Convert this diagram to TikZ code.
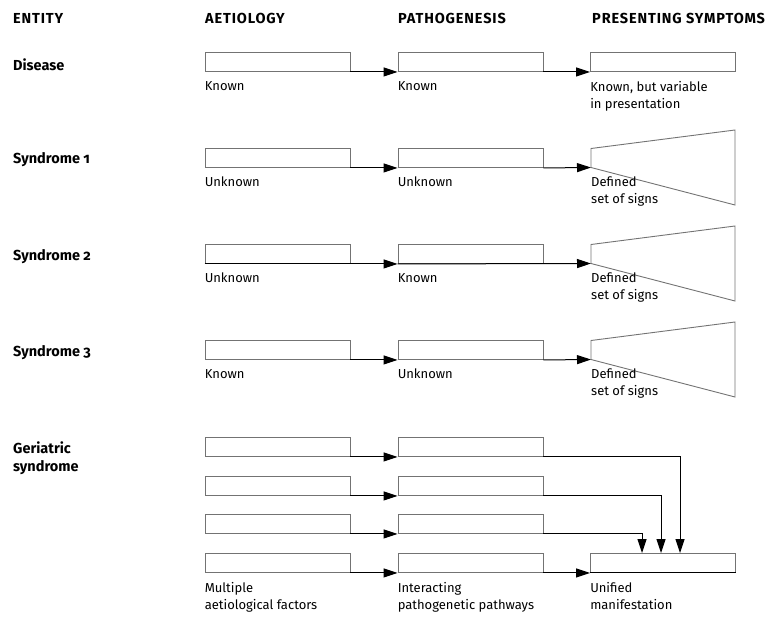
\documentclass[tikz,border=0pt]{standalone}
\usepackage{fontspec}
\setmainfont{Fira Sans}[Numbers=OldStyle]
\usetikzlibrary{arrows.meta}

\tikzset{
  box/.style={draw=black!55, line width=0.9pt, minimum width=145pt, minimum height=19pt, inner sep=0pt},
  hdr/.style={anchor=west, inner sep=0pt, font=\fontsize{14.5}{17}\selectfont\bfseries\addfontfeatures{LetterSpace=6}},
  ent/.style={anchor=west, inner sep=0pt, align=left, font=\fontsize{14.5}{18}\selectfont\bfseries},
  lbl/.style={anchor=north west, inner sep=0pt, yshift=-9pt, align=left, font=\fontsize{13}{17}\selectfont},
  arr/.style={draw, line width=1pt, -{Triangle[length=14pt,width=9pt]}}
}

\begin{document}
\begin{tikzpicture}[x=1pt,y=-1pt]
      \useasboundingbox (0,0) rectangle (777,619);

      % headings
      \node[hdr] (h1) at (13,18)  {ENTITY};
      \node[hdr] (h2) at (205,18) {AETIOLOGY};
      \node[hdr] (h3) at (398,18) {PATHOGENESIS};
      \node[hdr] (h4) at (592,18) {PRESENTING SYMPTOMS};

      \node[ent] (e1) at (13,65)  {Disease};
      \node[ent] (e2) at (13,160) {Syndrome 1};
      \node[ent] (e3) at (13,257) {Syndrome 2};
      \node[ent] (e4) at (13,353) {Syndrome 3};
      \node[ent] (e5) at (13,458) {Geriatric\\syndrome};

      \begin{scope}[every node/.style={box}]
        \node (a1) at (277.5,62)  {};
        \node (p1) at (470.5,62)  {};
        \node (s1) at (663,62)    {};
        \node (a2) at (277.5,158) {};
        \node (p2) at (470.5,158) {};
        \node (a3) at (277.5,254) {};
        \node (p3) at (470.5,254) {};
        \node (a4) at (277.5,350) {};
        \node (p4) at (470.5,350) {};
        \node (ag1) at (277.5,447) {};
        \node (pg1) at (470.5,447) {};
        \node (ag2) at (277.5,486) {};
        \node (pg2) at (470.5,486) {};
        \node (ag3) at (277.5,524) {};
        \node (pg3) at (470.5,524) {};
        \node (ag4) at (277.5,563) {};
        \node (pg4) at (470.5,563) {};
        \node (mg) at (663,563)    {};
      \end{scope}

      % widening symptom shapes
      \foreach \r/\y in {2/158, 3/254, 4/350} {
        \draw[black!55, line width=0.9pt] (591,\y-9.5) -- (735,\y-28) -- (735,\y+47) -- (591,\y+9.5) -- cycle;
        \coordinate (t\r) at (591,\y+9.5);
      }

      % labels
      \node[lbl] (k1) at (a1.south west) {Known};
      \node[lbl] (k2) at (p1.south west) {Known};
      \node[lbl] (k3) at (s1.south west) {Known, but variable\\in presentation};
      \node[lbl] (k4) at (a2.south west) {Unknown};
      \node[lbl] (k5) at (p2.south west) {Unknown};
      \node[lbl] (k6) at (t2) {Defined\\set of signs};
      \node[lbl] (k7) at (a3.south west) {Unknown};
      \node[lbl] (k8) at (p3.south west) {Known};
      \node[lbl] (k9) at (t3) {Defined\\set of signs};
      \node[lbl] (k10) at (a4.south west) {Known};
      \node[lbl] (k11) at (p4.south west) {Unknown};
      \node[lbl] (k12) at (t4) {Defined\\set of signs};
      \node[lbl] (k13) at (ag4.south west) {Multiple\\aetiological factors};
      \node[lbl] (k14) at (pg4.south west) {Interacting\\pathogenetic pathways};
      \node[lbl] (k15) at (mg.south west) {Unified\\manifestation};

      \begin{scope}[every edge/.style={arr}]
        \path (a1.south east) edge (p1.south west);
        \path (p1.south east) edge (s1.south west);
        \path (a2.south east) edge (p2.south west);
        \path (p2.south east) edge (t2);
        \path (a3.south west) edge (p3.south west);
        \path (p3.south west) edge (t3);
        \path (a4.south east) edge (p4.south west);
        \path (p4.south east) edge (t4);
        \path (ag1.south east) edge (pg1.south west);
        \path (ag2.south east) edge (pg2.south west);
        \path (ag3.south east) edge (pg3.south west);
        \path (ag4.south east) edge (pg4.south west);
        \path (pg4.south east) edge (mg.south west);
      \end{scope}
      \draw[line width=1pt] (mg.south west) -- (mg.south east);

      \draw[arr] (pg1.south east) -| ([xshift=90pt]mg.north west);
      \draw[arr] (pg2.south east) -| ([xshift=71pt]mg.north west);
      \draw[arr] (pg3.south east) -| ([xshift=52pt]mg.north west);

    \end{tikzpicture}
\end{document}
